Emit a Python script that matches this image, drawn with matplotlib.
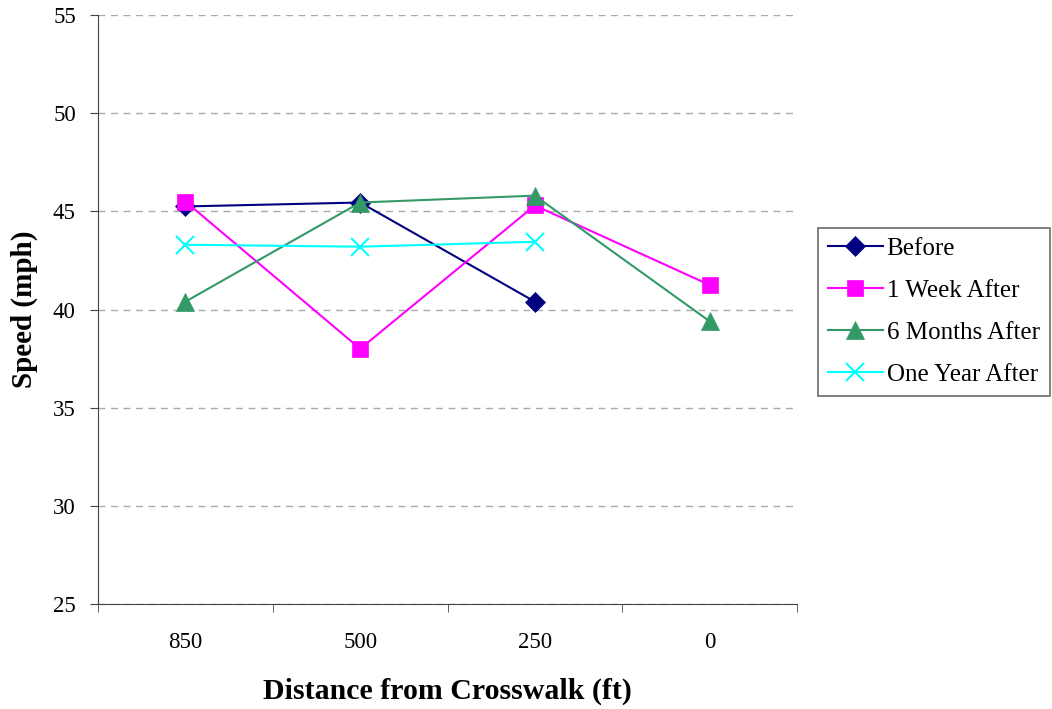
import numpy as np
import matplotlib.pyplot as plt

plt.rcParams['font.family'] = ['Liberation Serif', 'DejaVu Serif']

distances = ['850', '500', '250', '0']
before = [45.25, 45.45, 40.4, None]
week_after = [45.5, 38.0, 45.3, 41.25]
six_months_after = [40.4, 45.45, 45.8, 39.4]
one_year_after = [43.3, 43.2, 43.45, None]

series = [
    ('Before', before, '#000080', 'D', 10),
    ('1 Week After', week_after, '#FF00FF', 's', 12),
    ('6 Months After', six_months_after, '#339966', '^', 13),
    ('One Year After', one_year_after, '#00FFFF', 'x', 13),
]

fig = plt.figure(figsize=(10.52, 7.09), dpi=100)
ax = fig.add_axes([0.0932, 0.1481, 0.6644, 0.8307])

x = np.arange(len(distances))
for name, vals, col, mk, ms in series:
    xs = [xi for xi, v in zip(x, vals) if v is not None]
    ys = [v for v in vals if v is not None]
    ax.plot(xs, ys, color=col, marker=mk, markersize=ms, linewidth=1.5,
            markeredgewidth=1.5 if mk == 'x' else 0.5, label=name, zorder=3)

ax.set_xlim(-0.5, len(distances) - 0.5)
ax.set_ylim(25, 55)
ax.set_yticks(np.arange(25, 56, 5))
ax.set_xticks(x)
ax.set_xticklabels(distances)
ax.set_xticks(np.arange(-0.5, len(distances), 1), minor=True)
ax.tick_params(axis='x', which='major', length=0, pad=20, labelsize=16.5)
ax.tick_params(axis='x', which='minor', length=6, direction='out', color='#444444')
ax.tick_params(axis='y', length=6, direction='out', labelsize=16.5, color='#444444', pad=10)
ax.yaxis.grid(True, linestyle=(0, (5, 4)), color='#aaaaaa', linewidth=1)
ax.set_axisbelow(True)

for s in ['top', 'right']:
    ax.spines[s].set_visible(False)
for s in ['left', 'bottom']:
    ax.spines[s].set_color('#444444')

ax.set_xlabel('Distance from Crosswalk (ft)', fontsize=21.5, fontweight='bold')
ax.xaxis.set_label_coords(0.5, -0.125)
ax.set_ylabel('Speed (mph)', fontsize=21, fontweight='bold', labelpad=11)

leg = ax.legend(loc='upper left', bbox_to_anchor=(1.03, 0.639), fontsize=18,
                frameon=True, fancybox=False, edgecolor='#444444',
                handlelength=2.2, handletextpad=0.15, borderpad=0.4, labelspacing=0.78,
                borderaxespad=0)
leg.get_frame().set_linewidth(1.2)

fig.savefig('out.png', dpi=100)
